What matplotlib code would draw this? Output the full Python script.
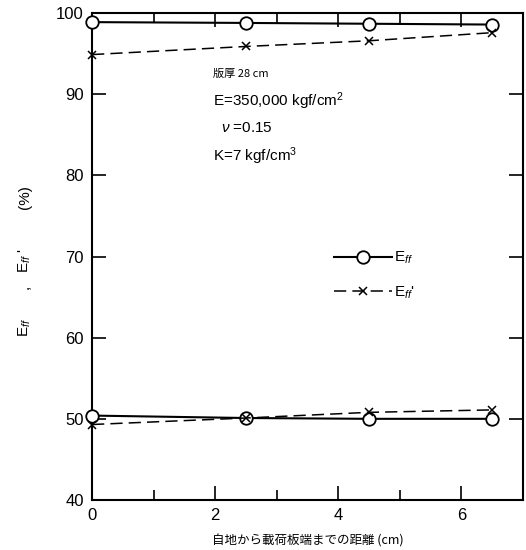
import numpy as np
import matplotlib
matplotlib.use("Agg")
import matplotlib.pyplot as plt

plt.rcParams['font.family'] = ['Liberation Sans', 'Noto Sans CJK JP', 'DejaVu Sans']
plt.rcParams['mathtext.fontset'] = 'custom'
plt.rcParams['mathtext.rm'] = 'Liberation Sans'
plt.rcParams['mathtext.it'] = 'Liberation Sans:italic'

# distance from joint to loading plate edge (cm)
dist = [0, 2.5, 4.5, 6.5]
# upper group
eff_top = [98.9, 98.8, 98.7, 98.6]
effp_top = [94.9, 95.9, 96.6, 97.6]
# lower group
eff_bot = [50.4, 50.1, 50.0, 50.0]
effp_bot = [49.3, 50.1, 50.8, 51.1]

xticks = [0, 2, 4, 6]
yticks = [40, 50, 60, 70, 80, 90, 100]

fig = plt.figure(figsize=(5.26, 5.5), dpi=100)
ax = fig.add_axes([0.175, 0.091, 0.819, 0.885])

circ = dict(color='black', lw=1.5, marker='o', ms=9, mfc='white', mec='black', mew=1.3)
cross = dict(color='black', lw=1.1, ls=(0, (8, 4)), marker='x', ms=6, mew=1.1)

ax.plot(dist, eff_top, clip_on=False, zorder=3, label=r'E$_{\it ff}$', **circ)
ax.plot(dist, effp_top, clip_on=False, zorder=3, label=r"E$_{\it ff}$'", **cross)
ax.plot(dist, eff_bot, clip_on=False, zorder=3, **circ)
ax.plot(dist, effp_bot, clip_on=False, zorder=3, **cross)

ax.set_xlim(0, 7)
ax.set_ylim(40, 100)
ax.set_xticks(xticks)
ax.set_xticks(range(0, 8), minor=True)
ax.set_yticks(yticks)
ax.tick_params(direction='in', which='both', top=True, right=True, length=10, width=1.2, labelsize=12, pad=6)
ax.tick_params(axis='x', which='minor', length=7)
for s in ax.spines.values():
    s.set_linewidth(1.5)

ax.set_xlabel('自地から載荷板端までの距離 (cm)', fontsize=9, family=['Noto Sans CJK JP', 'DejaVu Sans'], labelpad=8)

# y label pieces, rotated
ylab_x = 25 / 526
for txt, ypix in [(r'E$_{\it ff}$', 327), (',', 287), (r"E$_{\it ff}$ '", 260), ('(%)', 197)]:
    fig.text(ylab_x, 1 - ypix / 550, txt, rotation=90, ha='center', va='center', fontsize=11)

ax.text(0.28, 0.876, '版厚 28 cm', transform=ax.transAxes, fontsize=8, va='center',
        family=['Noto Sans CJK JP', 'DejaVu Sans'])
ax.text(0.28, 0.82, 'E=350,000 kgf/cm$^{2}$', transform=ax.transAxes, fontsize=11, va='center')
ax.text(0.30, 0.764, r'$\nu$ =0.15', transform=ax.transAxes, fontsize=11, va='center')
ax.text(0.28, 0.706, 'K=7 kgf/cm$^{3}$', transform=ax.transAxes, fontsize=11, va='center')

leg = ax.legend(loc='upper left', bbox_to_anchor=(0.53, 0.542), frameon=False, numpoints=1,
                handlelength=3.8, handletextpad=0.1, labelspacing=1.2, fontsize=11)

fig.savefig('out.png', dpi=100)
